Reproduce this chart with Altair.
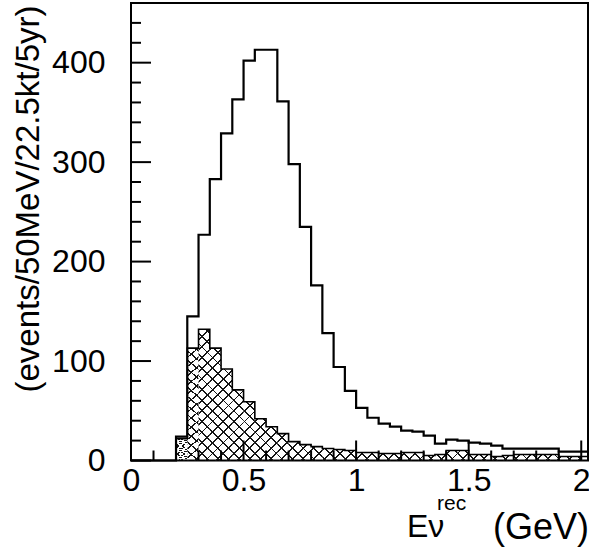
import math
import altair as alt
import pandas as pd

# ---------------- data ----------------
bin_width = 0.05
x_max = 2.03
y_max = 460

# events per 50 MeV bin (bins start at 0.00, 0.05, ... ; last bin cut at 2.03)
total = [0, 0, 0, 0, 24, 145, 227, 283, 329, 363, 402, 413, 413, 361, 298, 235,
         176, 128, 94, 70, 53, 43, 37, 34, 30, 29, 25, 17, 21, 20, 18, 17, 15,
         12, 12, 12, 12, 12, 9, 9, 9]
background = [0, 0, 0, 0, 22, 113, 132, 113, 92, 71, 59, 42, 34, 27, 19, 16,
              14, 12, 11, 10, 8, 8, 7, 7, 8, 8, 5, 6, 10, 10, 6, 6, 4, 5, 6,
              6, 6, 6, 4, 4, 4]

x_major = [0, 0.5, 1, 1.5, 2]
x_minor = [0.1, 0.2, 0.3, 0.4, 0.6, 0.7, 0.8, 0.9, 1.1, 1.2, 1.3, 1.4,
           1.6, 1.7, 1.8, 1.9]
y_major = [0, 100, 200, 300, 400]
y_minor = [20, 40, 60, 80, 120, 140, 160, 180, 220, 240, 260, 280, 320, 340,
           360, 380, 420, 440]

# ---------------- layout ----------------
W = 457
H = 457.5
FONT = "Liberation Sans"

lefts = [round(i * bin_width, 4) for i in range(len(total))]

tot_df = pd.DataFrame({
    "x": lefts + [x_max],
    "y": total + [total[-1]],
})
tot_df["i"] = range(len(tot_df))

first = next(i for i, v in enumerate(background) if v > 0)
bg_x = [lefts[first]] + lefts[first:] + [x_max]
bg_y = [0] + background[first:] + [background[-1]]
bg_df = pd.DataFrame({"x": bg_x, "y": bg_y})
bg_df["i"] = range(len(bg_df))

# ---------------- cross hatch via striped gradients ----------------
px_x = W / x_max
px_y = H / y_max
Wb = (x_max - lefts[first]) * px_x
Hb = max(background) * px_y
r = Hb / Wb
s = (1 + r) / (1 + r * r)
spacing = 7.6
N = int(round(((Wb + Hb) / math.sqrt(2)) / spacing))
frac = 0.18
ink = "#151515"
clear = "rgba(255,255,255,0)"


def stripes():
    st = []
    for i in range(N):
        a = i / N
        b = (i + frac) / N
        c = (i + 1) / N
        st += [
            {"offset": a, "color": ink},
            {"offset": b, "color": ink},
            {"offset": b, "color": clear},
            {"offset": c, "color": clear},
        ]
    return st


grad_back = {"gradient": "linear", "x1": 0, "y1": 1, "x2": s, "y2": 1 - s * r,
             "stops": stripes()}
grad_fwd = {"gradient": "linear", "x1": 0, "y1": 0, "x2": s, "y2": s * r,
            "stops": stripes()}

xscale = alt.Scale(domain=[0, x_max], nice=False, zero=False)
yscale = alt.Scale(domain=[0, y_max], nice=False, zero=False)

x_axis = alt.Axis(values=x_major, format="~g", ticks=False, domain=False,
                  grid=False, labelFont=FONT, labelFontSize=32,
                  labelColor="black", labelPadding=5, labelFlush=False,
                  labelOverlap=False, labelBound=False, title=None)
y_axis = alt.Axis(values=y_major, format="d", ticks=False, domain=False,
                  grid=False, labelFont=FONT, labelFontSize=32,
                  labelColor="black", labelPadding=10, offset=16,
                  labelFlush=False, labelOverlap=False, labelBound=False,
                  title=None)


def X(field):
    return alt.X(field, type="quantitative", scale=xscale, axis=x_axis)


def Y(field):
    return alt.Y(field, type="quantitative", scale=yscale, axis=y_axis)


base_bg = alt.Chart(bg_df)

hatch1 = base_bg.mark_area(interpolate="step-after", fill=grad_back).encode(
    x=X("x"), y=Y("y"), order=alt.Order("i:Q"),
)
hatch2 = base_bg.mark_area(interpolate="step-after", fill=grad_fwd).encode(
    x=X("x"), y=Y("y"), order=alt.Order("i:Q"),
)
bg_line = base_bg.mark_line(interpolate="step-after", color="black",
                            strokeWidth=1.6).encode(
    x=X("x"), y=Y("y"), order=alt.Order("i:Q"),
)
tot_line = alt.Chart(tot_df).mark_line(interpolate="step-after", color="black",
                                       strokeWidth=2.2).encode(
    x=X("x"), y=Y("y"), order=alt.Order("i:Q"),
)

# ---------------- inward ticks ----------------
ymaj = alt.Chart(pd.DataFrame({"y": y_major})).mark_rule(
    color="black", strokeWidth=2).encode(
    y=Y("y"), x=alt.value(0), x2=alt.value(20))
ymin = alt.Chart(pd.DataFrame({"y": y_minor})).mark_rule(
    color="black", strokeWidth=2).encode(
    y=Y("y"), x=alt.value(0), x2=alt.value(10))
xmaj = alt.Chart(pd.DataFrame({"x": x_major})).mark_rule(
    color="black", strokeWidth=2).encode(
    x=X("x"), y=alt.value(H), y2=alt.value(H - 20))
xmin = alt.Chart(pd.DataFrame({"x": x_minor})).mark_rule(
    color="black", strokeWidth=2).encode(
    x=X("x"), y=alt.value(H), y2=alt.value(H - 10))

# ---------------- titles ----------------
one = pd.DataFrame({"t": ["(events/50MeV/22.5kt/5yr)"]})
ytitle = alt.Chart(one).mark_text(
    font=FONT, fontSize=33, angle=270, align="center", baseline="alphabetic",
    color="black").encode(text="t:N", x=alt.value(-92), y=alt.value(196))

t1 = alt.Chart(pd.DataFrame({"t": ["Eν"]})).mark_text(
    font=FONT, fontSize=32, align="left", baseline="alphabetic",
    color="black").encode(text="t:N", x=alt.value(276), y=alt.value(534))
t2 = alt.Chart(pd.DataFrame({"t": ["rec"]})).mark_text(
    font=FONT, fontSize=21, align="left", baseline="alphabetic",
    color="black").encode(text="t:N", x=alt.value(306), y=alt.value(507))
t3 = alt.Chart(pd.DataFrame({"t": ["(GeV)"]})).mark_text(
    font=FONT, fontSize=36, align="right", baseline="alphabetic",
    color="black").encode(text="t:N", x=alt.value(458), y=alt.value(536))

chart = alt.layer(
    hatch1, hatch2, bg_line, tot_line, ymaj, ymin, xmaj, xmin, ytitle, t1, t2, t3
).properties(
    width=W, height=H,
    autosize=alt.AutoSizeParams(type="none"),
    padding={"left": 131, "top": 3, "right": 1, "bottom": 94},
    background="white",
).configure_view(stroke="black", strokeWidth=2)

chart.save("out.html", embed_options={"renderer": "svg", "actions": False})
